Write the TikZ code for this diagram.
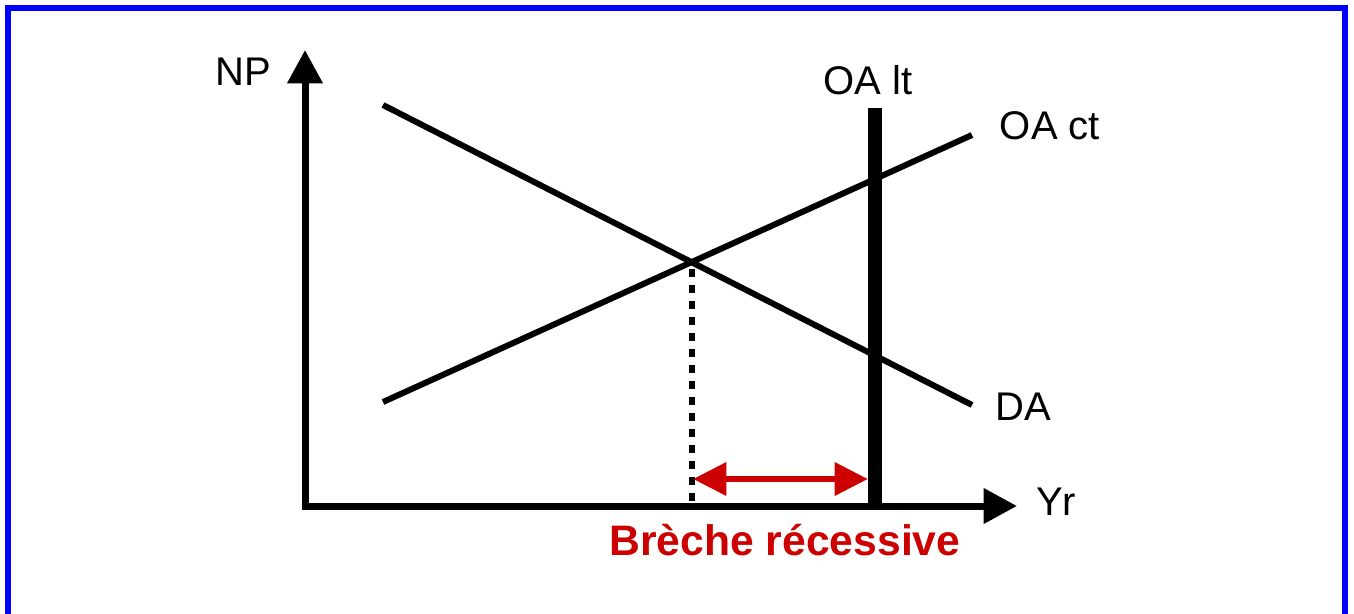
\documentclass[tikz,border=0pt]{standalone}
\usepackage{fontspec}
\setmainfont{Liberation Sans}
\usepackage{xcolor}
\usetikzlibrary{arrows.meta}
\definecolor{frameblue}{RGB}{0,0,255}
\definecolor{gapred}{RGB}{204,0,0}

\begin{document}
\begin{tikzpicture}[x=0.75pt,y=-0.75pt,
  axis/.style={line width=5.25pt,line cap=rect,-{Triangle[length=25pt,width=25.5pt]}},
  curve/.style={line width=4.5pt},
  lbl/.style={font=\fontsize{30}{36}\selectfont,inner sep=0pt,anchor=base}]
\useasboundingbox (0,0) rectangle (1354,614);
\draw[frameblue, line width=4.5pt] (8,8) rectangle (1345,660);

% axes
\coordinate (O) at (305,506);
\coordinate (ytop) at (305,50);
\coordinate (xend) at (1017,506);
\draw[axis] (O) -- (ytop);
\draw[axis] (O) -- (xend);

% demand and short-term supply
\coordinate (da0) at (383,105);
\coordinate (da1) at (972,405);
\coordinate (ct0) at (383,402);
\coordinate (ct1) at (972,135);
\draw[curve] (da0) -- (da1);
\draw[curve] (ct0) -- (ct1);

% equilibrium and long-term supply
\coordinate (E) at (692,262);
\coordinate (Ex) at (692,504);
\draw[line width=4.5pt, dash pattern=on 6pt off 6pt, dash phase=6.75pt] (E) -- (Ex);
\coordinate (lt0) at (875,108);
\coordinate (lt1) at (875,510);
\draw[line width=10pt] (lt0) -- (lt1);

% gap
\coordinate (g0) at (693,479);
\coordinate (g1) at (868,479);
\draw[gapred, line width=5pt, {Triangle[length=25pt,width=24pt]}-{Triangle[length=25pt,width=24pt]}] (g0) -- (g1);

\node[lbl] (np) at (243,85) {NP};
\node[lbl] (oalt) at (868,94) {OA lt};
\node[lbl] (oact) at (1050,139) {OA ct};
\node[lbl] (da) at (1023,420) {DA};
\node[lbl] (yr) at (1056,515) {Yr};
\node[lbl, font=\fontsize{32}{38}\selectfont\bfseries, text=gapred] (gap) at (785,555) {Brèche récessive};
\end{tikzpicture}
\end{document}
